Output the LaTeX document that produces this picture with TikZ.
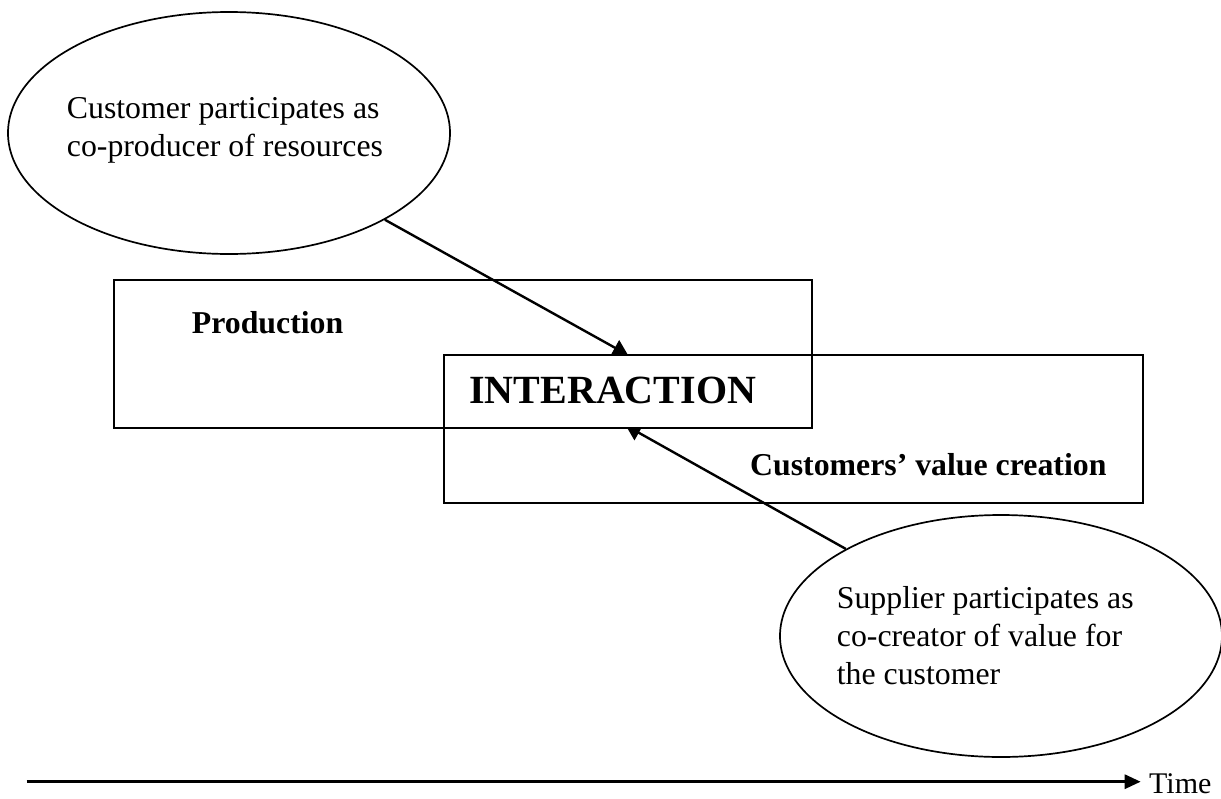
\documentclass[tikz,border=0pt]{standalone}
\usepackage{fontspec}
\setmainfont{Liberation Serif}
\usetikzlibrary{shapes.geometric,arrows.meta,calc,backgrounds}
\tikzset{
  ell/.style={draw, ellipse, line width=1.7pt, minimum width=442pt, minimum height=242pt, inner sep=0pt},
  boxst/.style={draw, rectangle, line width=2.2pt, inner sep=0pt, anchor=north west},
  arr/.style={line width=2.4pt, -{Triangle[width=17pt,length=15pt]}},
  axisarr/.style={line width=3pt, -{Triangle[width=14pt,length=16pt]}},
  txt/.style={font=\fontsize{31.8}{38}\selectfont, inner sep=0pt, align=left},
  boldtxt/.style={font=\fontsize{31.8}{38}\selectfont\bfseries, inner sep=0pt},
}
\begin{document}
\begin{tikzpicture}[x=1pt,y=-1pt]
\useasboundingbox (0,0) rectangle (1221,798);
% ellipses
\node[ell] (e1) at (229,133) {};
\node[ell] (e2) at (1001,636) {};
\node[txt, anchor=west] (e1txt) at (66.7,130.6) {Customer participates as\\co-producer of resources};
\node[txt, anchor=west] (e2txt) at (836.7,635.8) {Supplier participates as\\co-creator of value for\\the customer};
% overlap region (INTERACTION)
\node[anchor=north west, fill=white, inner sep=0pt, minimum width=368pt, minimum height=73pt,
      text width=315pt, align=left, font=\fontsize{40}{48}\selectfont\bfseries] (inter) at (442.7,354) {INTERACTION};
% boxes
\node[boxst, minimum width=698pt, minimum height=148pt] (prod) at (112.7,279) {};
\node[boxst, minimum width=699pt, minimum height=147.5pt] (cust) at (442.7,354) {};
\node[boldtxt, anchor=base west] (prodlbl) at (191.7,333) {Production};
\node[boldtxt, anchor=base west] (custlbl) at (750,475) {Customers’ value creation};
% arrow tips (hidden under the white overlap)
\coordinate (t1) at ($(inter.north west)+(185.3,1)$);
\coordinate (t2) at ($(inter.south west)+(183,-2)$);
\begin{pgfonlayer}{background}
\draw[arr] (e1) -- (t1);
\draw[arr] (e2) -- (t2);
\end{pgfonlayer}
% time axis
\coordinate (ts) at (26.7,781.7);
\coordinate (te) at (1140.7,781.7);
\draw[axisarr] (ts) -- (te);
\node[font=\fontsize{30}{36}\selectfont, inner sep=0pt, anchor=base west] (time) at (1149,793) {Time};
\end{tikzpicture}
\end{document}
